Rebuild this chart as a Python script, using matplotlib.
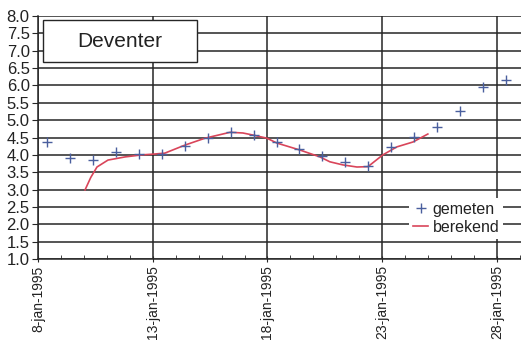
import matplotlib
matplotlib.use("Agg")
import matplotlib.pyplot as plt
import matplotlib.dates as mdates
from matplotlib.ticker import MultipleLocator, FuncFormatter
from matplotlib.patches import Rectangle
import pandas as pd

plt.rcParams["font.family"] = ["Liberation Sans", "DejaVu Sans"]

# Gemeten waterstand (daily readings, m)
meas_start = "1995-01-08 09:30"
gemeten = [4.37, 3.91, 3.85, 4.07, 4.02, 4.03, 4.25, 4.48, 4.66, 4.58, 4.37,
           4.17, 3.97, 3.79, 3.68, 4.22, 4.51, 4.80, 5.27, 5.95, 6.17]

# Berekende waterstand: time in days after 8-jan-1995 00:00, level (m)
calc_days = [2.05, 2.3, 2.57, 3.05, 3.79, 4.53, 5.01, 5.53, 6.4, 7.28, 8.37,
             8.93, 9.37, 9.98, 10.41, 11.41, 12.29, 12.72, 13.29, 13.9, 14.38,
             15.03, 15.64, 16.34, 16.99]
berekend = [2.99, 3.35, 3.65, 3.85, 3.94, 4.0, 4.02, 4.05, 4.28, 4.48, 4.65,
            4.63, 4.57, 4.48, 4.34, 4.14, 3.94, 3.8, 3.71, 3.65, 3.66,
            4.0, 4.23, 4.37, 4.6]

station = "Deventer"
maanden = ["jan", "feb", "mrt", "apr", "mei", "jun",
           "jul", "aug", "sep", "okt", "nov", "dec"]

base = pd.Timestamp("1995-01-08")
t_meas = pd.date_range(meas_start, periods=len(gemeten), freq="D")
t_calc = base + pd.to_timedelta(calc_days, unit="D")

fig = plt.figure(figsize=(5.21, 3.41), dpi=100)
ax = fig.add_axes([38 / 521, 82 / 341, 483 / 521, 243 / 341])

grid_col = "#262626"
ax.plot(t_meas, gemeten, linestyle="none", marker="+", markersize=7.5,
        markeredgewidth=1.0, color="#4a5f9e", label="gemeten", zorder=4)
ax.plot(t_calc, berekend, color="#d9455a", linewidth=1.2,
        label="berekend", zorder=3)

ax.set_ylim(1.0, 8.0)
ax.set_xlim(base, base + pd.Timedelta(days=21.05))
ax.yaxis.set_major_locator(MultipleLocator(0.5))
ax.yaxis.set_major_formatter(FuncFormatter(lambda v, p: f"{v:.1f}"))

ax.xaxis.set_major_locator(mdates.DayLocator(bymonthday=[3, 8, 13, 18, 23, 28]))
ax.xaxis.set_minor_locator(mdates.DayLocator())


def fmt_date(v, pos):
    d = mdates.num2date(v)
    return f"{d.day}-{maanden[d.month - 1]}-{d.year}"


ax.xaxis.set_major_formatter(FuncFormatter(fmt_date))
for lab in ax.get_xticklabels():
    lab.set_rotation(90)

ax.grid(True, which="major", color=grid_col, linewidth=1.1)
ax.set_axisbelow(True)
for side in ("top", "right"):
    ax.spines[side].set_visible(False)
for side in ("left", "bottom"):
    ax.spines[side].set_color(grid_col)
    ax.spines[side].set_linewidth(1.1)

ax.tick_params(axis="y", which="major", direction="out", length=4,
               labelsize=12, color=grid_col, pad=2, labelcolor="#222222")
ax.tick_params(axis="x", which="major", direction="inout", length=5,
               labelsize=10, color=grid_col, pad=2, labelcolor="#222222")
ax.tick_params(axis="x", which="minor", direction="in", length=3,
               color=grid_col)

# Station name box
ax.add_patch(Rectangle((0.0104, 0.81), 0.319, 0.173, transform=ax.transAxes,
                       facecolor="white", edgecolor=grid_col, linewidth=1.0,
                       zorder=5))
ax.text(0.17, 0.897, station, transform=ax.transAxes, ha="center",
        va="center", fontsize=15, color="#222222", zorder=6)

leg = ax.legend(loc="lower right", bbox_to_anchor=(0.97, 0.07),
                frameon=True, fontsize=11.5, handlelength=0.9,
                handletextpad=0.3, borderpad=0.25, labelspacing=0.2,
                fancybox=False, borderaxespad=0.2)
leg.get_frame().set_edgecolor("none")
leg.get_frame().set_facecolor("white")
leg.get_frame().set_alpha(1.0)
for t in leg.get_texts():
    t.set_color("#222222")

fig.savefig("out.png", dpi=100)
